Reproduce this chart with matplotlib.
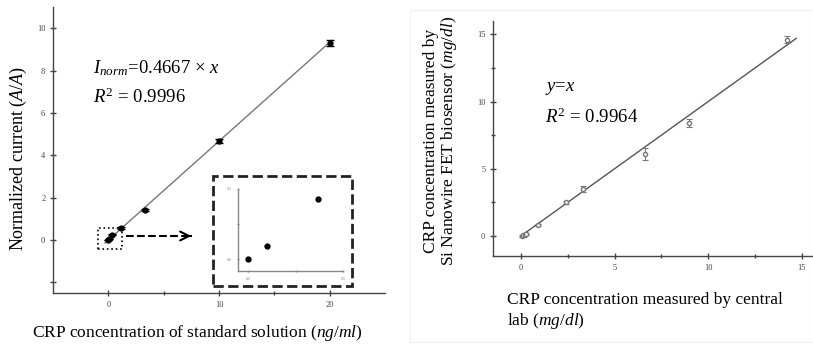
import numpy as np
import matplotlib
matplotlib.use('Agg')
import matplotlib.pyplot as plt
from matplotlib.patches import Rectangle

# fonte tipo Times
plt.rcParams['font.family'] = 'Liberation Serif'
plt.rcParams['mathtext.fontset'] = 'custom'
plt.rcParams['mathtext.rm'] = 'Liberation Serif'
plt.rcParams['mathtext.it'] = 'Liberation Serif:italic'

# Dados - painel esquerdo (curva de calibração)
conc_padrao = np.array([0.0, 0.1, 0.37, 1.1, 3.3, 10.0, 20.0])
corrente = np.array([0.0, 0.058, 0.257, 0.55, 1.42, 4.68, 9.3])
erro_corrente = np.array([0.01, 0.01, 0.01, 0.05, 0.06, 0.08, 0.16])
inclinacao = 0.4667

# Dados - painel direito (comparação com laboratório central)
conc_lab = np.array([0.05, 0.1, 0.2, 0.25, 0.9, 2.4, 3.3, 6.6, 9.0, 14.2])
conc_fet = np.array([0.0, 0.05, 0.1, 0.15, 0.8, 2.5, 3.5, 6.1, 8.4, 14.6])
erro_fet = np.array([0.05, 0.05, 0.05, 0.05, 0.08, 0.12, 0.2, 0.45, 0.3, 0.25])

cinza = '#444444'

fig = plt.figure(figsize=(8.13, 3.49), dpi=100)


def estilo_eixo(ax, tam=6):
    for s in ['top', 'right']:
        ax.spines[s].set_visible(False)
    for s in ['left', 'bottom']:
        ax.spines[s].set_color(cinza)
        ax.spines[s].set_linewidth(1.0)
    ax.tick_params(axis='both', which='major', labelsize=tam, colors=cinza,
                   length=4, width=1, direction='inout')
    ax.tick_params(axis='both', which='minor', colors=cinza, length=3,
                   width=1, direction='inout')


# ---------------- painel esquerdo ----------------
ax1 = fig.add_axes([0.0652, 0.1605, 0.4084, 0.8195])
estilo_eixo(ax1)
ax1.set_xlim(-5, 25)
ax1.set_ylim(-2.5, 11)
ax1.set_xticks([0, 10, 20])
ax1.set_xticks([5, 15], minor=True)
ax1.set_yticks([-2, 0, 2, 4, 6, 8, 10])
ax1.set_yticklabels(['', '0', '2', '4', '6', '8', '10'])

x_fit = np.array([-0.3, 20.2])
ax1.plot(x_fit, inclinacao * x_fit, color='#777777', lw=1)
ax1.errorbar(conc_padrao, corrente, yerr=erro_corrente, fmt='o', color='black',
             ms=3.5, capsize=3, elinewidth=1, capthick=1)

ax1.text(-1.35, 8.1, r'$I_{norm}$=0.4667 × $x$', fontsize=13.5, va='center')
ax1.text(-1.35, 6.75, r'$R^2$ = 0.9996', fontsize=13.5, va='center')

ax1.set_xlabel(r'CRP concentration of standard solution ($ng/ml$)',
               fontsize=12.5, va='center')
ax1.xaxis.set_label_coords(0.434, -0.14)
ax1.set_ylabel(r'Normalized current ($A/A$)', fontsize=13, va='center')
ax1.yaxis.set_label_coords(-0.105, 0.47)

# caixa pontilhada em torno da origem e seta
ax1.add_patch(Rectangle((-0.9, -0.42), 2.15, 0.99, fill=False, ls=':',
                        lw=1.2, color='black'))
ax1.plot([1.6, 7.4], [0.19, 0.19], ls='--', color='black', lw=1.5)
ax1.annotate('', xy=(7.75, 0.19), xytext=(7.2, 0.19),
             arrowprops=dict(arrowstyle='->', lw=1.5, color='black',
                             mutation_scale=16))

# caixa tracejada do detalhe
fig.patches.append(Rectangle((213 / 813, 1 - 286 / 349), 139 / 813, 110 / 349,
                             transform=fig.transFigure, fill=False, ls='--',
                             lw=2, color='#222222'))

# detalhe (inset)
axi = fig.add_axes([238 / 813, 1 - 271 / 349, 105 / 813, 82 / 349])
estilo_eixo(axi, tam=3)
for s in ['left', 'bottom']:
    axi.spines[s].set_color('#888888')
axi.tick_params(axis='both', which='both', length=2, colors='#888888')
axi.set_xlim(-0.053, 0.5)
axi.set_ylim(-0.05, 0.3)
axi.set_xticks([0.0, 0.5])
axi.set_xticks([0.25], minor=True)
axi.set_yticks([0.0, 0.3])
axi.set_yticks([0.15], minor=True)
axi.set_xticklabels(['0.0', '0.5'])
axi.set_yticklabels(['0.0', '0.3'])
axi.plot(conc_padrao[:3], corrente[:3], 'o', color='black', ms=3.5)
axi.patch.set_alpha(0)

# ---------------- painel direito ----------------
fig.patches.append(Rectangle((410 / 813, 1 - 342 / 349), 403 / 813, 332 / 349,
                             transform=fig.transFigure, fill=False,
                             lw=0.8, color='#f0f0f0'))

ax2 = fig.add_axes([0.6064, 0.2665, 0.3936, 0.6734])
estilo_eixo(ax2)
ax2.set_xlim(-1.5, 15.6)
ax2.set_ylim(-1.5, 16)
ax2.set_xticks([0, 5, 10, 15])
ax2.set_xticks([2.5, 7.5, 12.5], minor=True)
ax2.set_yticks([0, 5, 10, 15])
ax2.set_yticks([2.5, 7.5, 12.5], minor=True)

x_id = np.array([0.0, 14.7])
ax2.plot(x_id, x_id, color='#555555', lw=1)
ax2.errorbar(conc_lab, conc_fet, yerr=erro_fet, fmt='o', mfc='white',
             mec='#777777', color='#777777', ms=3, capsize=2, elinewidth=0.8,
             capthick=0.8)

ax2.text(1.3, 10.95, r'$y$=$x$', fontsize=13.5, va='center')
ax2.text(1.3, 8.8, r'$R^2$ = 0.9964', fontsize=13.5, va='center')

ax2.set_ylabel('CRP concentration measured by\n'
               r'Si Nanowire FET biosensor ($mg/dl$)', fontsize=12.5,
               linespacing=1.0, va='center')
ax2.yaxis.set_label_coords(-0.1625, 0.49)
fig.text(507 / 813, 1 - 300 / 349, 'CRP concentration measured by central',
         fontsize=12.5, va='center')
fig.text(507 / 813, 1 - 321 / 349, r'lab ($mg/dl$)', fontsize=12.5, va='center')

fig.savefig('out.png', dpi=100)
